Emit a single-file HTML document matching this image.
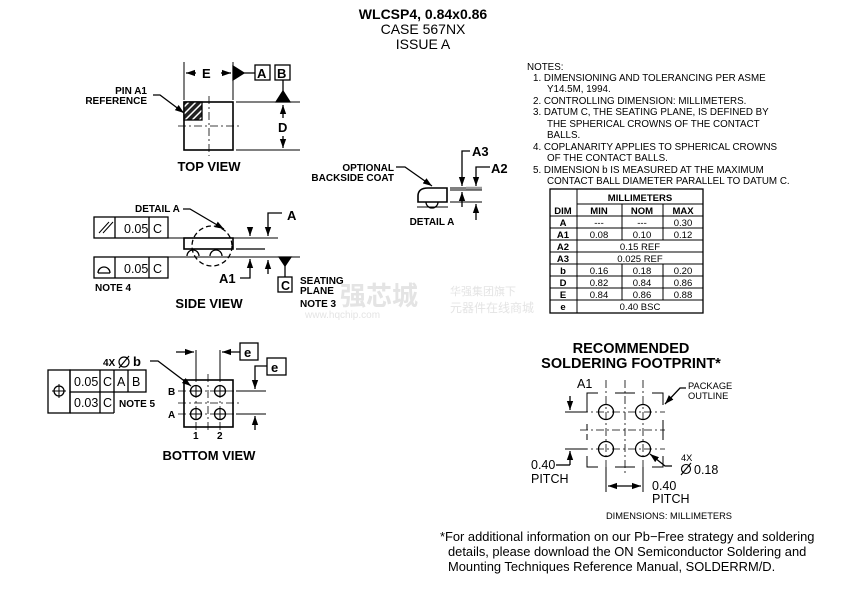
<!DOCTYPE html>
<html><head><meta charset="utf-8"><style>
html,body{margin:0;padding:0;background:#fff;}
svg{display:block;font-family:"Liberation Sans","Noto Sans CJK SC",sans-serif;}
.b{font-weight:bold}
</style></head><body>
<svg width="867" height="599" viewBox="0 0 867 599" xmlns="http://www.w3.org/2000/svg">
<defs>
<marker id="ar" viewBox="0 0 10 10" refX="10" refY="5" markerWidth="7" markerHeight="7" orient="auto-start-reverse"><path d="M0,1.5 L10,5 L0,8.5z" fill="#000"/></marker>
<pattern id="hat" width="5" height="5" patternUnits="userSpaceOnUse" patternTransform="rotate(45)"><rect width="5" height="5" fill="#222"/><rect width="1.5" height="5" fill="#fff"/></pattern>
</defs>
<g fill="#000">
<text x="423" y="19" font-size="14" class="b" text-anchor="middle">WLCSP4, 0.84x0.86</text>
<text x="423" y="34" font-size="14" text-anchor="middle">CASE 567NX</text>
<text x="423" y="49" font-size="14" text-anchor="middle">ISSUE A</text>
</g>
<g fill="#e4e4e4">
<text x="340" y="305" font-size="26" class="b">强芯城</text>
<text x="450" y="295" font-size="11">华强集团旗下</text>
<text x="450" y="312" font-size="12">元器件在线商城</text>
<text x="305" y="318" font-size="10">www.hqchip.com</text>
</g>
<g stroke="#000" fill="none" stroke-width="1.3">
<rect x="184" y="102" width="49" height="48" stroke-width="1.6"/>
<rect x="184" y="102" width="18" height="18" fill="url(#hat)"/>
<path d="M178,126 H240 M209,96 V156" stroke-width="0.8" stroke-dasharray="8,3,2,3"/>
<path d="M184,62 V100 M233,62 V100 M236,102 H300 M236,150 H300" stroke-width="1"/>
<path d="M196,73 H186" marker-end="url(#ar)"/>
<path d="M221,73 H231" marker-end="url(#ar)"/>
<path d="M233,73 H255"/>
<path d="M233,66 L244,73 L233,80z" fill="#000"/>
<rect x="255" y="65" width="15" height="15"/>
<rect x="275" y="65" width="15" height="15"/>
<path d="M283,80 V92"/>
<path d="M276,102 L283,91 L290,102z" fill="#000"/>
<path d="M283,118 V105" marker-end="url(#ar)"/>
<path d="M283,136 V148" marker-end="url(#ar)"/>
<path d="M153,95 H160 L184,113" marker-end="url(#ar)"/>
<rect x="184" y="238" width="49" height="11" stroke-width="1.6"/>
<path d="M187,256 A6,6 0 0 1 199,256 M210,256 A6,6 0 0 1 222,256"/>
<circle cx="212" cy="246" r="20" stroke-dasharray="5,3"/>
<path d="M168,238 H278 M118,257 H300" stroke-width="1"/>
<path d="M118,257 H180" stroke="#fff" stroke-width="1.5" stroke-dasharray="0,18,10,3,2,3,8,100"/>
<path d="M236,249 H265"/>
<rect x="94" y="217" width="74" height="21"/>
<path d="M115,217 V238 M149,217 V238"/>
<path d="M99,233 L109,222 M103,233 L113,222" stroke-width="1"/>
<rect x="94" y="257" width="74" height="21"/>
<path d="M115,257 V278 M149,257 V278"/>
<path d="M98,273 H110 M98,273 A6,6 0 0 1 110,273"/>
<path d="M282,213 H268 V236" marker-end="url(#ar)"/>
<path d="M250,227 V236" marker-end="url(#ar)"/>
<path d="M250,274 V259" marker-end="url(#ar)"/>
<path d="M240,278 H250 V274"/>
<path d="M268,274 V260" marker-end="url(#ar)"/>
<path d="M279,257 L285,266 L291,257z" fill="#000"/>
<path d="M285,265 V277"/>
<rect x="278" y="277" width="14" height="15"/>
<path d="M183,209 H190 L224,229" marker-end="url(#ar)"/>
<path d="M428,188 H447 V202 H418 V196 Q418,188 428,188z" stroke-width="1.6"/>
<path d="M426,202 A6,6 0 0 0 438,202"/>
<path d="M417,207 H448 M450,188 H482 M450,190 H482 M450,202 H482" stroke-width="1"/>
<path d="M466,188 H482" stroke="#999" stroke-width="2.5"/>
<path d="M470,151 H462 V186" marker-end="url(#ar)"/>
<path d="M462,207 V192" marker-end="url(#ar)"/>
<path d="M490,167 H476 V186" marker-end="url(#ar)"/>
<path d="M476,220 V204" marker-end="url(#ar)"/>
<path d="M396,167 H405 L432,186" marker-end="url(#ar)"/>
<rect x="184" y="380" width="49" height="47" stroke-width="1.6"/>
<path d="M178,391 H240 M178,403 H240 M178,414 H240 M196,374 V433 M208,374 V433 M220,374 V433" stroke-width="0.8" stroke-dasharray="8,3,2,3"/>
<circle cx="196" cy="391" r="5.5"/><circle cx="220" cy="391" r="5.5"/>
<circle cx="196" cy="414" r="5.5"/><circle cx="220" cy="414" r="5.5"/>
<path d="M190,391 H202 M196,385 V397 M214,391 H226 M220,385 V397 M190,414 H202 M196,408 V420 M214,414 H226 M220,408 V420" stroke-width="1"/>
<path d="M196,350 V380 M220,350 V380 M236,391 H266 M236,414 H266" stroke-width="1"/>
<path d="M176,352 H194" marker-end="url(#ar)"/>
<path d="M240,352 H222" marker-end="url(#ar)"/>
<rect x="240" y="343" width="18" height="17"/>
<path d="M267,366 H255 V389" marker-end="url(#ar)"/>
<path d="M255,430 V416" marker-end="url(#ar)"/>
<rect x="267" y="358" width="19" height="17"/>
<rect x="48" y="370" width="22" height="43"/>
<rect x="70" y="370" width="76" height="22"/>
<path d="M100,370 V413 M114,370 V413 M128,370 V392 M70,413 H114 M70,392 V413"/>
<circle cx="59" cy="391" r="5"/><path d="M52,391 H66 M59,384 V398" stroke-width="1"/>
<circle cx="124" cy="362" r="5" stroke-width="1.2"/><path d="M119,368 L129,356" stroke-width="1.2"/>
<path d="M150,361 H158 L191,386" marker-end="url(#ar)"/>
<rect x="550" y="189" width="153" height="124"/>
<path d="M577,189 V313 M577,204 H703 M550,216 H703 M622,204 V240 M622,264 V300 M663,204 V240 M663,264 V300" stroke-width="1"/>
<path d="M550,228 H703 M550,240 H703 M550,252 H703 M550,264 H703 M550,276 H703 M550,288 H703 M550,300 H703" stroke-width="1"/>
<g stroke-width="1">
<path d="M587,412 V393 H598 M615,393 H635 M652,393 H663 V405 M663,420 V440 M663,456 V467 H652 M635,467 H615 M598,467 H587 V456"/>
<path d="M587,440 V420" stroke-dasharray="6,4"/>
<path d="M580,412 H665 M580,430 H665 M580,449 H665 M606,380 V474 M625,380 V474 M643,380 V474" stroke-dasharray="8,3,2,3" stroke-width="0.8"/>
</g>
<circle cx="606" cy="412" r="7.5"/><circle cx="643" cy="412" r="7.5"/>
<circle cx="606" cy="449" r="7.5"/><circle cx="643" cy="449" r="7.5"/>
<path d="M565,412 H587 M565,449 H587 M606,467 V492 M643,467 V492" stroke-width="1"/>
<path d="M570,396 V410" marker-end="url(#ar)"/>
<path d="M570,465 V451" marker-end="url(#ar)"/>
<path d="M556,465 H570"/>
<path d="M608,486 H641" marker-start="url(#ar)" marker-end="url(#ar)"/>
<path d="M686,388 H680 L665,404" marker-end="url(#ar)"/>
<path d="M672,466 H665 L650,454" marker-end="url(#ar)"/>
<circle cx="686" cy="469" r="4.5" stroke-width="1.1"/><path d="M681,475 L691,463" stroke-width="1.1"/>
</g>
<g fill="#000" font-size="10" class="b">
<text x="147" y="94" text-anchor="end">PIN A1</text>
<text x="147" y="104" text-anchor="end">REFERENCE</text>
<text x="202" y="78" font-size="13">E</text>
<text x="257" y="78" font-size="13">A</text>
<text x="277" y="78" font-size="13">B</text>
<text x="278" y="132" font-size="13">D</text>
<text x="209" y="171" font-size="13" text-anchor="middle">TOP VIEW</text>
<text x="135" y="212">DETAIL A</text>
<text x="287" y="220" font-size="13">A</text>
<text x="219" y="283" font-size="13">A1</text>
<text x="95" y="291">NOTE 4</text>
<text x="300" y="284">SEATING</text>
<text x="300" y="294">PLANE</text>
<text x="300" y="307">NOTE 3</text>
<text x="209" y="308" font-size="13" text-anchor="middle">SIDE VIEW</text>
<text x="394" y="171" text-anchor="end">OPTIONAL</text>
<text x="394" y="181" text-anchor="end">BACKSIDE COAT</text>
<text x="472" y="156" font-size="13">A3</text>
<text x="491" y="173" font-size="13">A2</text>
<text x="432" y="225" text-anchor="middle">DETAIL A</text>
<text x="103" y="366">4X</text>
<text x="133" y="366" font-size="13">b</text>
<text x="244" y="357" font-size="13">e</text>
<text x="271" y="372" font-size="13">e</text>
<text x="119" y="407">NOTE 5</text>
<text x="168" y="395">B</text>
<text x="168" y="418">A</text>
<text x="193" y="439">1</text>
<text x="217" y="439">2</text>
<text x="209" y="460" font-size="13" text-anchor="middle">BOTTOM VIEW</text>
<text x="631" y="353" font-size="14.5" text-anchor="middle">RECOMMENDED</text>
<text x="631" y="368" font-size="14.5" text-anchor="middle">SOLDERING FOOTPRINT*</text>
</g>
<g fill="#000" font-size="12.5">
<text x="124" y="233">0.05</text><text x="153" y="233">C</text>
<text x="124" y="273">0.05</text><text x="153" y="273">C</text>
<text x="74" y="386">0.05</text><text x="103" y="386">C</text><text x="117" y="386">A</text><text x="132" y="386">B</text>
<text x="74" y="407">0.03</text><text x="103" y="407">C</text>
<text x="281" y="290" class="b">C</text>
<text x="577" y="388">A1</text>
<text x="531" y="469">0.40</text>
<text x="531" y="483">PITCH</text>
<text x="652" y="490">0.40</text>
<text x="652" y="503">PITCH</text>
<text x="694" y="474">0.18</text>
</g>
<g fill="#000" font-size="9.8">
<text x="527" y="70">NOTES:</text>
<text x="533" y="81">1.  DIMENSIONING AND TOLERANCING PER ASME</text>
<text x="547" y="92">Y14.5M, 1994.</text>
<text x="533" y="104">2.  CONTROLLING DIMENSION: MILLIMETERS.</text>
<text x="533" y="115">3.  DATUM C, THE SEATING PLANE, IS DEFINED BY</text>
<text x="547" y="127">THE SPHERICAL CROWNS OF THE CONTACT</text>
<text x="547" y="138">BALLS.</text>
<text x="533" y="150">4.  COPLANARITY APPLIES TO SPHERICAL CROWNS</text>
<text x="547" y="161">OF THE CONTACT BALLS.</text>
<text x="533" y="173">5.  DIMENSION b IS MEASURED AT THE MAXIMUM</text>
<text x="547" y="184">CONTACT BALL DIAMETER PARALLEL TO DATUM C.</text>
</g>
<g fill="#000" font-size="9.3">
<text x="688" y="389">PACKAGE</text>
<text x="688" y="399">OUTLINE</text>
<text x="681" y="461">4X</text>
<text x="669" y="519" text-anchor="middle">DIMENSIONS: MILLIMETERS</text>
</g>
<g fill="#000" font-size="9.5" text-anchor="middle">
<g class="b">
<text x="640" y="201">MILLIMETERS</text>
<text x="563" y="214">DIM</text><text x="599" y="214">MIN</text><text x="642" y="214">NOM</text><text x="683" y="214">MAX</text>
<text x="563" y="226">A</text><text x="563" y="238">A1</text><text x="563" y="250">A2</text><text x="563" y="262">A3</text>
<text x="563" y="274">b</text><text x="563" y="286">D</text><text x="563" y="298">E</text><text x="563" y="310">e</text>
</g>
<text x="599" y="226">---</text><text x="642" y="226">---</text><text x="683" y="226">0.30</text>
<text x="599" y="238">0.08</text><text x="642" y="238">0.10</text><text x="683" y="238">0.12</text>
<text x="640" y="250">0.15 REF</text>
<text x="640" y="262">0.025 REF</text>
<text x="599" y="274">0.16</text><text x="642" y="274">0.18</text><text x="683" y="274">0.20</text>
<text x="599" y="286">0.82</text><text x="642" y="286">0.84</text><text x="683" y="286">0.86</text>
<text x="599" y="298">0.84</text><text x="642" y="298">0.86</text><text x="683" y="298">0.88</text>
<text x="640" y="310">0.40 BSC</text>
</g>
<g fill="#000" font-size="12.9">
<text x="440" y="541">*For additional information on our Pb−Free strategy and soldering</text>
<text x="448" y="556">details, please download the ON Semiconductor Soldering and</text>
<text x="448" y="571">Mounting Techniques Reference Manual, SOLDERRM/D.</text>
</g>
</svg>
</body></html>
